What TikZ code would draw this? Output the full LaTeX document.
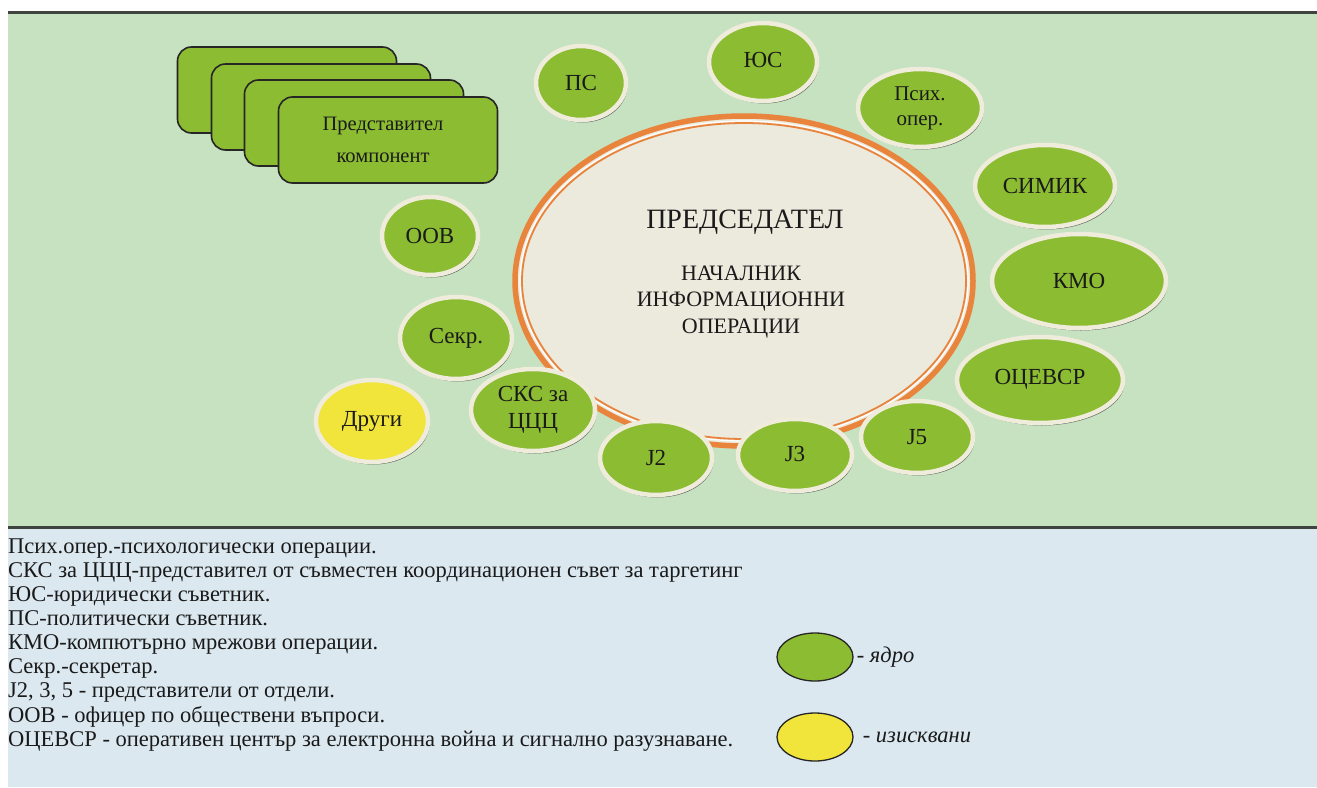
\documentclass[tikz,border=0pt]{standalone}
\usepackage{fontspec}
\setmainfont{Liberation Serif}
\usetikzlibrary{shapes.geometric,shadows}
\definecolor{bggreen}{HTML}{C6E2C1}
\definecolor{bgblue}{HTML}{DBE8F0}
\definecolor{nodegreen}{HTML}{8CBC32}
\definecolor{cream}{HTML}{EFECDC}
\definecolor{centerfill}{HTML}{ECE9DD}
\definecolor{orng}{HTML}{E9843C}
\definecolor{yel}{HTML}{F1E43B}
\definecolor{rulecol}{HTML}{3F4440}
\definecolor{txt}{HTML}{1A1A1A}
\begin{document}
\begin{tikzpicture}[x=1pt,y=-1pt,
  bub/.style={ellipse, draw=cream, line width=4.5pt, fill=nodegreen, inner sep=0pt, align=center,
    text=txt, font=\fontsize{23}{27}\selectfont,
    drop shadow={shadow xshift=1.5pt, shadow yshift=-2.5pt, fill=black!75, opacity=0.75}},
  rbox/.style={rectangle, rounded corners=14pt, draw=black!85, line width=1.6pt, fill=nodegreen,
    minimum width=219pt, minimum height=86pt, inner sep=0pt, text=txt, font=\fontsize{20.5}{32}\selectfont},
  legtxt/.style={anchor=base west, inner sep=0pt, text=txt, font=\fontsize{22.5}{24}\selectfont},
  legell/.style={ellipse, draw=black!85, line width=1.3pt, minimum width=76pt, minimum height=48pt, inner sep=0pt},
  legital/.style={anchor=west, inner sep=0pt, text=txt, font=\itshape\fontsize{22.5}{26}\selectfont}
]
\useasboundingbox (0,0) rectangle (1317,787);
% backgrounds
\fill[white] (0,0) rectangle (1317,787);
\fill[bggreen] (8,12) rectangle (1317,527);
\fill[bgblue] (8,527) rectangle (1317,787);
\draw[rulecol, line width=3pt] (8,12) -- (1317,12);
\draw[rulecol, line width=3pt] (8,527) -- (1317,527);

% stacked component boxes
\node[rbox] (r1) at (287,90) {};
\node[rbox] (r2) at (321,107) {};
\node[rbox] (r3) at (354,123) {};
\node[rbox] (r4) at (388,140) {\hspace*{-10pt}\raisebox{4pt}{\begin{tabular}{c}Представител\\компонент\end{tabular}}};

% central ellipse
\node[ellipse, draw=orng, line width=5.5pt, fill=centerfill, minimum width=458pt, minimum height=330pt] (chair) at (744,281) {};
\draw[white, line width=1.2pt] (chair.center) ellipse [x radius=224pt, y radius=160pt];
\draw[orng, line width=1.8pt] (chair.center) ellipse [x radius=222pt, y radius=158pt];
\node[text=txt, font=\fontsize{28}{32}\selectfont] (chairt) at (745,222) {ПРЕДСЕДАТЕЛ};
\node[align=center, text=txt, font=\fontsize{22}{26.5}\selectfont] (chief) at (741,302) {НАЧАЛНИК\\ИНФОРМАЦИОННИ\\ОПЕРАЦИИ};

% surrounding bubbles
\node[bub, minimum width=90pt, minimum height=74pt] (ps) at (581,83) {ПС};
\node[bub, minimum width=108pt, minimum height=78pt] (jus) at (763,62) {\raisebox{5pt}{ЮС}};
\node[bub, minimum width=124pt, minimum height=78pt, font=\fontsize{21}{25}\selectfont] (psih) at (920,108) {Псих.\\опер.};
\node[bub, minimum width=140pt, minimum height=82pt] (simik) at (1045,186) {СИМИК};
\node[bub, minimum width=174pt, minimum height=94pt] (kmo) at (1079,281) {КМО};
\node[bub, minimum width=166pt, minimum height=86pt] (ocevsr) at (1040,380) {\raisebox{6pt}{ОЦЕВСР}};
\node[bub, minimum width=112pt, minimum height=72pt] (j5) at (917,437) {J5};
\node[bub, minimum width=114pt, minimum height=72pt] (j3) at (795,455) {\raisebox{2pt}{J3}};
\node[bub, minimum width=112pt, minimum height=74pt] (j2) at (656,458) {J2};
\node[bub, minimum width=124pt, minimum height=82pt] (sks) at (533,410) {СКС за\\ЦЦЦ};
\node[bub, fill=yel, minimum width=112pt, minimum height=82pt] (drugi) at (372,421) {Други};
\node[bub, minimum width=112pt, minimum height=82pt] (sekr) at (456,338) {Секр.};
\node[bub, minimum width=96pt, minimum height=78pt] (oov) at (430,236) {ООВ};

% legend text
\node[legtxt] (l1) at (8,553) {Псих.опер.-психологически операции.};
\node[legtxt] (l2) at (8,577) {СКС за ЦЦЦ-представител от съвместен координационен съвет за таргетинг};
\node[legtxt] (l3) at (8,601) {ЮС-юридически съветник.};
\node[legtxt] (l4) at (8,625) {ПС-политически съветник.};
\node[legtxt] (l5) at (8,649) {КМО-компютърно мрежови операции.};
\node[legtxt] (l6) at (8,673) {Секр.-секретар.};
\node[legtxt] (l7) at (8,697) {J2, 3, 5 - представители от отдели.};
\node[legtxt] (l8) at (8,722) {ООВ - офицер по обществени въпроси.};
\node[legtxt] (l9) at (8,746) {ОЦЕВСР - оперативен център за електронна война и сигнално разузнаване.};

% legend symbols
\node[legell, fill=nodegreen] (lg1) at (815,657) {};
\node[legital] (lt1) at ([xshift=3pt]lg1.east) {- ядро};
\node[legell, fill=yel] (lg2) at (815,737) {};
\node[legital] (lt2) at ([xshift=9pt]lg2.east) {- изисквани};
\end{tikzpicture}
\end{document}
